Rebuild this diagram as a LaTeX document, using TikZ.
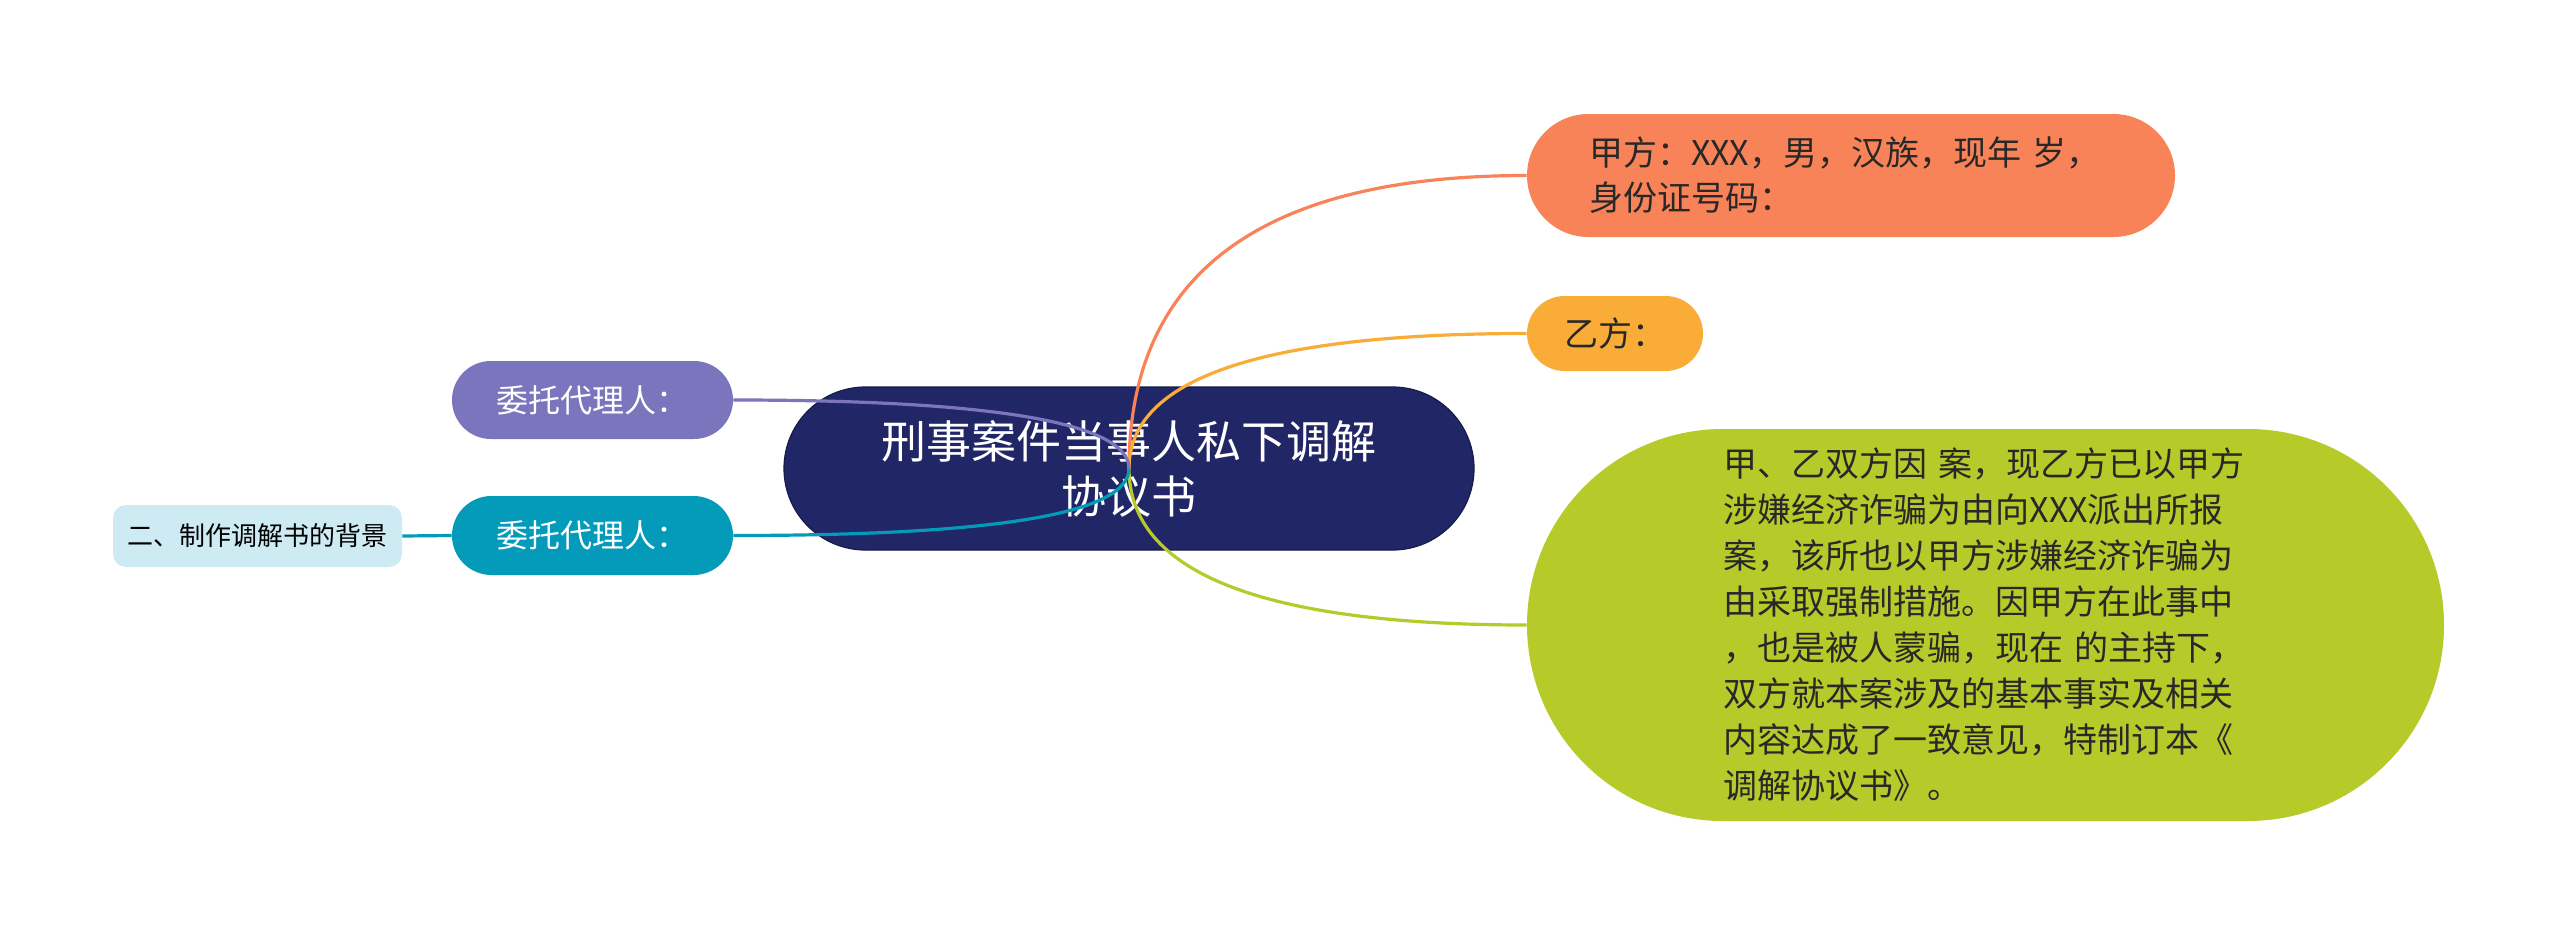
\documentclass[tikz,border=0pt]{standalone}
\usepackage{fontspec}
\setmainfont{Noto Sans CJK SC}
\usetikzlibrary{shapes.misc}
\definecolor{rootbg}{RGB}{33, 38, 102}
\definecolor{partyabg}{RGB}{249, 131, 88}
\definecolor{partybbg}{RGB}{250, 172, 56}
\definecolor{factsbg}{RGB}{182, 202, 42}
\definecolor{agentabg}{RGB}{122, 117, 188}
\definecolor{agentbbg}{RGB}{4, 154, 186}
\definecolor{notebg}{RGB}{206, 235, 243}
\definecolor{darktext}{RGB}{40, 40, 40}

\begin{document}
\begin{tikzpicture}[x=0.5pt, y=-0.5pt,
    pill/.style={rounded rectangle, inner sep=0pt},
    link/.style={line width=1.6pt}]
  \fill[white] (0,0) rectangle (2560,937);
  \node[pill, fill=rootbg, draw=rootbg!70!black, line width=0.6pt, minimum width=345pt, minimum height=81.5pt, text=white, align=center, font=\fontsize{22.5}{27.5}\selectfont] (root) at (1129,468.5) {刑事案件当事人私下调解\\协议书};
  \node[pill, fill=partyabg, minimum width=324pt, minimum height=61.5pt, text=darktext, text width=262pt, align=left, font=\fontsize{17}{22.5}\selectfont] (partya) at (1851,175.5) {甲方：XXX，男，汉族，现年 岁，\\身份证号码：};
  \node[pill, fill=partybbg, minimum width=88pt, minimum height=37.5pt, text=darktext, font=\fontsize{17}{22.5}\selectfont] (partyb) at (1615,333.5) {乙方：};
  \node[pill, fill=factsbg, minimum width=458.5pt, minimum height=196pt, text=darktext, text width=262pt, align=left, font=\fontsize{17}{23}\selectfont] (facts) at (1985.5,625) {甲、乙双方因 案，现乙方已以甲方\\涉嫌经济诈骗为由向XXX派出所报\\案，该所也以甲方涉嫌经济诈骗为\\由采取强制措施。因甲方在此事中\\，也是被人蒙骗，现在 的主持下，\\双方就本案涉及的基本事实及相关\\内容达成了一致意见，特制订本《\\调解协议书》。};
  \node[pill, fill=agentabg, minimum width=140.5pt, minimum height=39pt, text=white, font=\fontsize{16}{20}\selectfont] (agenta) at (592.5,400) {委托代理人：};
  \node[pill, fill=agentbbg, minimum width=140.5pt, minimum height=39.5pt, text=white, font=\fontsize{16}{20}\selectfont] (agentb) at (592.5,535.5) {委托代理人：};
  \node[fill=notebg, rounded corners=6.5pt, minimum width=144.5pt, minimum height=31pt, inner sep=0pt, font=\fontsize{13}{16}\selectfont] (note) at (257.5,536) {二、制作调解书的背景};
  % branches out of the centre
  \draw[link, draw=partyabg] (root.center) .. controls +(0,-195) and +(-265,0) .. (partya.west);
  \draw[link, draw=partybbg] (root.center) .. controls +(0,-90) and +(-265,0) .. (partyb.west);
  \draw[link, draw=factsbg] (root.center) .. controls +(0,104) and +(-265,0) .. (facts.west);
  \draw[link, draw=agentabg] (root.center) .. controls +(0,-45) and +(264,0) .. (agenta.east);
  \draw[link, draw=agentbbg] (root.center) .. controls +(0,45) and +(264,0) .. (agentb.east);
  \draw[link, draw=agentbbg] (note.east) -- (agentb.west);
\end{tikzpicture}
\end{document}
